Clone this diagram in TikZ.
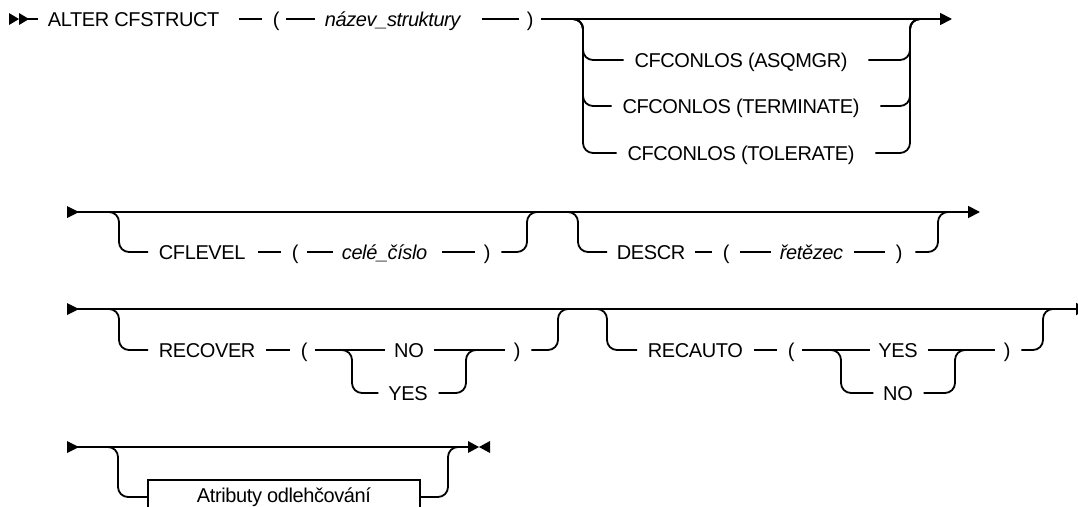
\documentclass[tikz,border=0pt]{standalone}
\usepackage{fontspec}
\setmainfont{Liberation Sans}[LetterSpace=-2]
\usetikzlibrary{arrows.meta}

\begin{document}
\begin{tikzpicture}[x=1pt, y=-1pt, line width=1.8pt,
  kw/.style={anchor=west, inner sep=0pt, text height=14.4pt, text depth=0pt, font=\fontsize{20}{24}\selectfont},
  var/.style={kw, font=\fontsize{20}{24}\selectfont\itshape},
  opt/.style={kw, anchor=center},
  fork/.style={rounded corners=10pt},
  tip/.style={-{Triangle[length=12pt,width=12pt]}}]
\useasboundingbox (0,0) rectangle (1078,506);
\clip (0,0) rectangle (1078,506);

% row 1
\fill (9,13) -- (19,19) -- (9,25) -- cycle;
\fill (19,13) -- (29,19) -- (19,25) -- cycle;
\coordinate (s1) at (20,19);
\node[kw] (alter) at (47,19) {ALTER CFSTRUCT};
\node[kw] (lp1) at (272,19) {(};
\node[var] (nazev) at (324,19) {název\_struktury};
\node[kw] (rp1) at (526,19) {)};
\coordinate (f1l) at (573,19);
\coordinate (f1r) at (910,19);
\coordinate (e1) at (952,19);
\draw[shorten >=9pt] (s1) -- (alter.west);
\draw[shorten <=19pt, shorten >=10pt] (alter.east) -- (lp1.west);
\draw[shorten <=6pt, shorten >=9pt] (lp1.east) -- (nazev.west);
\draw[shorten <=21pt, shorten >=7pt] (nazev.east) -- (rp1.west);
\draw[tip, shorten <=7pt] (rp1.east) -- (e1);
\foreach \y/\nm/\w in {60/los1/ASQMGR, 106/los2/TERMINATE, 153/los3/TOLERATE} {
  \node[opt] (\nm) at (741,\y) {CFCONLOS (\w)};
  \draw[fork, shorten >=10pt] (f1l) -- ++(10,0) |- (\nm.west);
  \draw[fork, shorten <=20pt] (\nm.east) -| (f1r) -- ++(10,0);
}

% row 2
\fill (67,206) -- (79,212) -- (67,218) -- cycle;
\coordinate (s2) at (75,212);
\coordinate (e2) at (980,212);
\draw[tip] (s2) -- (e2);
\coordinate (f2l) at (109,212);
\coordinate (f2r) at (527,212);
\node[kw] (cflevel) at (158,252) {CFLEVEL};
\node[kw] (lp2) at (291,252) {(};
\node[var] (cele) at (341,252) {celé\_číslo};
\node[kw] (rp2) at (483,252) {)};
\draw[fork, shorten >=10pt] (f2l) -- ++(10,0) |- (cflevel.west);
\draw[shorten <=12pt, shorten >=10pt] (cflevel.east) -- (lp2.west);
\draw[shorten <=8pt, shorten >=8pt] (lp2.east) -- (cele.west);
\draw[shorten <=14pt, shorten >=8pt] (cele.east) -- (rp2.west);
\draw[fork, shorten <=10pt] (rp2.east) -| (f2r) -- ++(10,0);
\coordinate (f3l) at (568,212);
\coordinate (f3r) at (938,212);
\node[kw] (descr) at (616,252) {DESCR};
\node[kw] (lp3) at (722,252) {(};
\node[var] (retez) at (779,252) {řetězec};
\node[kw] (rp3) at (895,252) {)};
\draw[fork, shorten >=9pt] (f3l) -- ++(10,0) |- (descr.west);
\draw[shorten <=9pt, shorten >=10pt] (descr.east) -- (lp3.west);
\draw[shorten <=10pt, shorten >=8pt] (lp3.east) -- (retez.west);
\draw[shorten <=10pt, shorten >=10pt] (retez.east) -- (rp3.west);
\draw[fork, shorten <=12pt] (rp3.east) -| (f3r) -- ++(10,0);

% row 3
\fill (67,303) -- (79,309) -- (67,315) -- cycle;
\coordinate (s3) at (75,309);
\coordinate (e3) at (1088,309);
\draw[tip] (s3) -- (e3);
\coordinate (f4l) at (109,309);
\coordinate (f4r) at (558,309);
\node[kw] (recover) at (158,350) {RECOVER};
\node[kw] (lp4) at (300,350) {(};
\node[opt] (no1) at (409,350) {NO};
\node[opt] (yes1) at (408,393) {YES};
\node[kw] (rp4) at (513,350) {)};
\coordinate (g1l) at (342,350);
\coordinate (g1r) at (466,350);
\draw[fork, shorten >=10pt] (f4l) -- ++(10,0) |- (recover.west);
\draw[shorten <=10pt, shorten >=10pt] (recover.east) -- (lp4.west);
\draw[shorten <=7pt, shorten >=8pt] (lp4.east) -- (no1.west);
\draw[shorten <=9pt, shorten >=8pt] (no1.east) -- (rp4.west);
\draw[fork, shorten >=9pt] (g1l) -- ++(10,0) |- (yes1.west);
\draw[fork, shorten <=10pt] (yes1.east) -| (g1r) -- ++(10,0);
\draw[fork, shorten <=10pt] (rp4.east) -| (f4r) -- ++(10,0);
\coordinate (f5l) at (597,309);
\coordinate (f5r) at (1043,309);
\node[kw] (recauto) at (647,350) {RECAUTO};
\node[kw] (lp5) at (787,350) {(};
\node[opt] (yes2) at (898,350) {YES};
\node[opt] (no2) at (898,393) {NO};
\node[kw] (rp5) at (1003,350) {)};
\coordinate (g2l) at (831,350);
\coordinate (g2r) at (955,350);
\draw[fork, shorten >=10pt] (f5l) -- ++(10,0) |- (recauto.west);
\draw[shorten <=10pt, shorten >=10pt] (recauto.east) -- (lp5.west);
\draw[shorten <=7pt, shorten >=8pt] (lp5.east) -- (yes2.west);
\draw[shorten <=9pt, shorten >=8pt] (yes2.east) -- (rp5.west);
\draw[fork, shorten >=9pt] (g2l) -- ++(10,0) |- (no2.west);
\draw[fork, shorten <=10pt] (no2.east) -| (g2r) -- ++(10,0);
\draw[fork, shorten <=10pt] (rp5.east) -| (f5r) -- ++(10,0);

% row 4
\fill (67,441) -- (79,447) -- (67,453) -- cycle;
\coordinate (s4) at (75,447);
\coordinate (e4) at (468,447);
\draw (s4) -- (e4);
\fill (468,441) -- (479,447) -- (468,453) -- cycle;
\fill (490,441) -- (479,447) -- (490,453) -- cycle;
\coordinate (f6l) at (108,447);
\coordinate (f6r) at (448,447);
\node[draw, minimum width=272pt, minimum height=34pt, inner sep=0pt, font=\fontsize{20}{24}\selectfont] (attr) at (284,497) {Atributy odlehčování};
\draw[fork] (f6l) -- ++(10,0) |- (attr.west);
\draw[fork] (attr.east) -| (f6r) -- ++(10,0);
\end{tikzpicture}
\end{document}
